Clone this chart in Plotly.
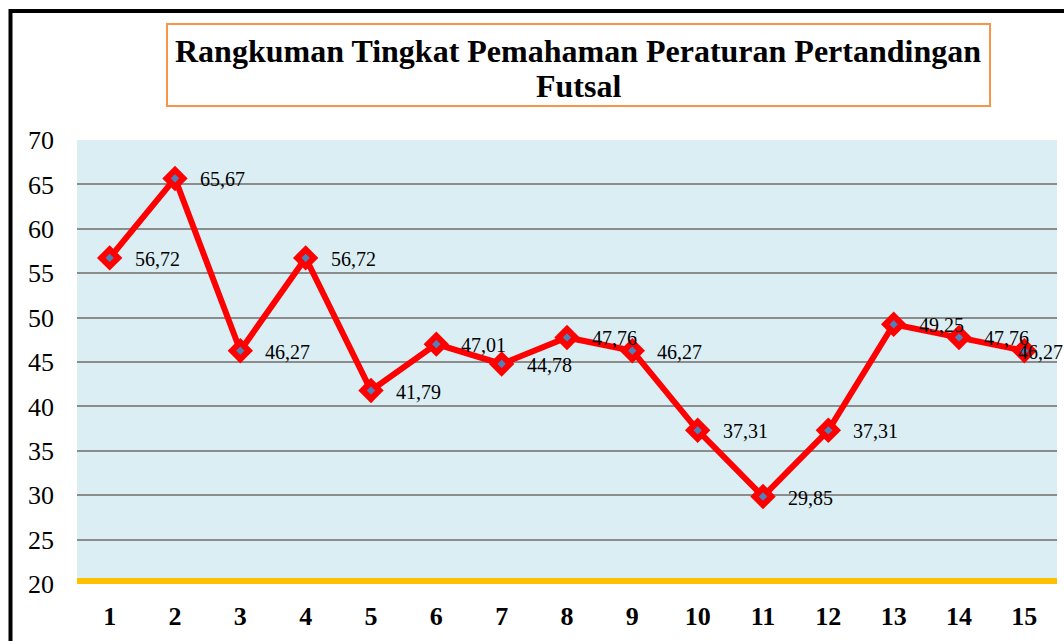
import plotly.graph_objects as go

categories = list(range(1, 16))
values = [56.72, 65.67, 46.27, 56.72, 41.79, 47.01, 44.78, 47.76, 46.27,
          37.31, 29.85, 37.31, 49.25, 47.76, 46.27]
y_ticks = [20, 25, 30, 35, 40, 45, 50, 55, 60, 65, 70]
title_line1 = "Rangkuman Tingkat Pemahaman Peraturan Pertandingan"
title_line2 = "Futsal"

W, H = 1064, 641
L, R, T, B = 77, 1057, 140, 584  # plot area pixel box


def px(x):
    return (x - L) / (R - L)


def py(y):
    return (B - y) / (B - T)


fig = go.Figure()
fig.add_trace(go.Scatter(
    x=categories, y=values, mode="lines+markers",
    line=dict(color="#FF0000", width=6),
    marker=dict(symbol="diamond", size=13, color="#4F81BD",
                line=dict(color="#FF0000", width=6)),
    showlegend=False, hoverinfo="x+y",
))

annotations = []
step = (R - L) / len(categories)
label_w = 47
for i, (c, v) in enumerate(zip(categories, values)):
    cx = L + (c - 0.5) * step
    shift = 23
    if cx + shift + label_w > W - 1:
        shift = W - 1 - label_w - cx
    annotations.append(dict(
        x=c, y=v, xref="x", yref="y", text=f"{v:.2f}".replace(".", ","),
        showarrow=False, xanchor="left", yanchor="middle", xshift=shift, yshift=-1,
        font=dict(family="Liberation Serif", size=20, color="black"),
    ))

title_font = dict(family="Liberation Serif", size=32, color="black", weight="bold")
annotations.append(dict(x=px(578), y=py(51), xref="paper", yref="paper",
                        text=title_line1, showarrow=False, xanchor="center",
                        yanchor="middle", font=title_font))
annotations.append(dict(x=px(578), y=py(86), xref="paper", yref="paper",
                        text=title_line2, showarrow=False, xanchor="center",
                        yanchor="middle", font=title_font))

shapes = [
    # gold baseline band at 20
    dict(type="line", xref="paper", yref="y", x0=0, x1=1, y0=20, y1=20,
         line=dict(color="#FFC000", width=12), layer="above"),
    # title box
    dict(type="rect", xref="paper", yref="paper", x0=px(167), x1=px(990),
         y0=py(106), y1=py(24), line=dict(color="#F79646", width=2),
         fillcolor="rgba(0,0,0,0)"),
    # outer black frame (top and left)
    dict(type="line", xref="paper", yref="paper", x0=px(9), x1=px(1066),
         y0=py(11), y1=py(11), line=dict(color="black", width=4)),
    dict(type="line", xref="paper", yref="paper", x0=px(10.5), x1=px(10.5),
         y0=py(9), y1=py(645), line=dict(color="black", width=4)),
]

fig.update_layout(
    width=W, height=H,
    margin=dict(l=L, r=W - R, t=T, b=H - B, pad=0),
    paper_bgcolor="white", plot_bgcolor="#DBEEF4",
    annotations=annotations, shapes=shapes,
    xaxis=dict(range=[0.5, 15.5], tickvals=categories,
               ticktext=[str(c) for c in categories],
               showgrid=False, zeroline=False, showline=False,
               ticks="", ticklabelstandoff=14,
               tickfont=dict(family="Liberation Serif", size=26, color="black",
                             weight="bold")),
    yaxis=dict(range=[20, 70], tickvals=y_ticks, showgrid=True,
               gridcolor="#8C8C8C", gridwidth=2, zeroline=False, showline=False,
               ticks="", ticklabelstandoff=22,
               tickfont=dict(family="Liberation Serif", size=26, color="black")),
)

fig.write_html("out.html", config={"displayModeBar": False},
               post_script="document.body.style.margin='0';document.body.style.overflow='hidden';")
